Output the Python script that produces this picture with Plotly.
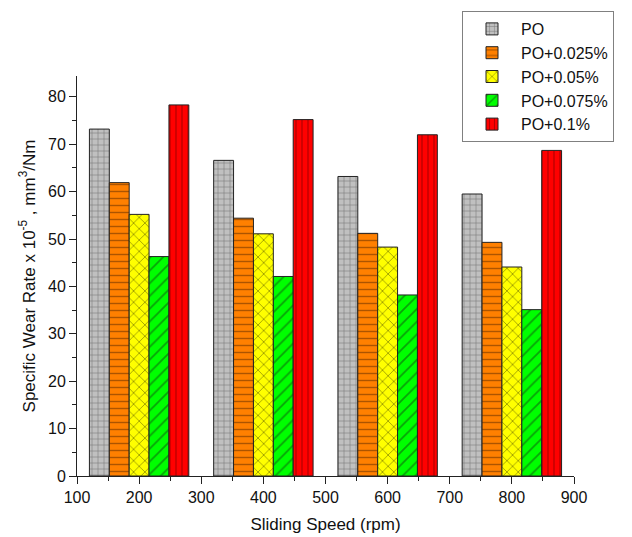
import plotly.graph_objects as go

speeds = [200, 400, 600, 800]
series_names = ["PO", "PO+0.025%", "PO+0.05%", "PO+0.075%", "PO+0.1%"]
po = [73.2, 66.6, 63.2, 59.5]
po_025 = [61.9, 54.4, 51.2, 49.3]
po_05 = [55.2, 51.1, 48.3, 44.1]
po_075 = [46.3, 42.1, 38.2, 35.1]
po_1 = [78.3, 75.2, 72.0, 68.7]
x_ticks = [100, 200, 300, 400, 500, 600, 700, 800, 900]
y_ticks = [0, 10, 20, 30, 40, 50, 60, 70, 80]

values = [po, po_025, po_05, po_075, po_1]
colors = ["#c0c0c0", "#ff8000", "#ffff00", "#00ff00", "#ff0000"]
shapes = ["+", "-", "x", "/", "|"]
psizes = [6, 7, 8, 9, 6]
fg = ["#3a3a3a", "#5a2800", "#333300", "#114411", "#660000"]

fig = go.Figure()
for name, vals, c, s, ps, f in zip(series_names, values, colors, shapes, psizes, fg):
    fig.add_trace(go.Bar(
        x=speeds, y=vals, name=name,
        marker=dict(
            color=c,
            line=dict(color="#222222", width=1),
            pattern=dict(shape=s, bgcolor=c, fgcolor=f, size=ps, solidity=0.2),
        ),
    ))

font = "Liberation Sans, Arial, sans-serif"
fig.update_layout(
    width=624, height=529,
    margin=dict(l=69, r=58, t=68, b=61, autoexpand=False),
    barmode="group", bargap=0.2, bargroupgap=0,
    plot_bgcolor="white", paper_bgcolor="white",
    font=dict(family=font, size=16, color="#111111"),
    legend=dict(
        x=(462 - 77) / 497, y=(476 - 11) / 400, xanchor="left", yanchor="top",
        bordercolor="#808080", borderwidth=1,
        font=dict(size=16, family=font, color="#111111"),
        tracegroupgap=0, itemwidth=48, bgcolor="rgba(255,255,255,0)",
    ),
    xaxis=dict(
        range=[100, 900], tickvals=x_ticks, ticks="outside", ticklen=7,
        tickwidth=1, tickcolor="#222", showline=True, linecolor="#222", linewidth=1,
        showgrid=False, zeroline=False, automargin=False,
        minor=dict(ticks="outside", ticklen=4, dtick=50, tick0=100, tickcolor="#222"),
        title=dict(text="Sliding Speed (rpm)", font=dict(size=17), standoff=12),
        tickfont=dict(size=16),
    ),
    yaxis=dict(
        range=[0, 84.4], tickvals=y_ticks, ticks="outside", ticklen=7,
        tickwidth=1, tickcolor="#222", showline=True, linecolor="#222", linewidth=1,
        showgrid=False, zeroline=False, automargin=False,
        minor=dict(ticks="outside", ticklen=4, dtick=5, tick0=0, tickcolor="#222"),
        title=dict(text="Specific Wear Rate x 10<sup>-5</sup> , mm<sup>3</sup>/Nm",
                   font=dict(size=17), standoff=8),
        tickfont=dict(size=16),
    ),
)

fig.write_html("out.html")
